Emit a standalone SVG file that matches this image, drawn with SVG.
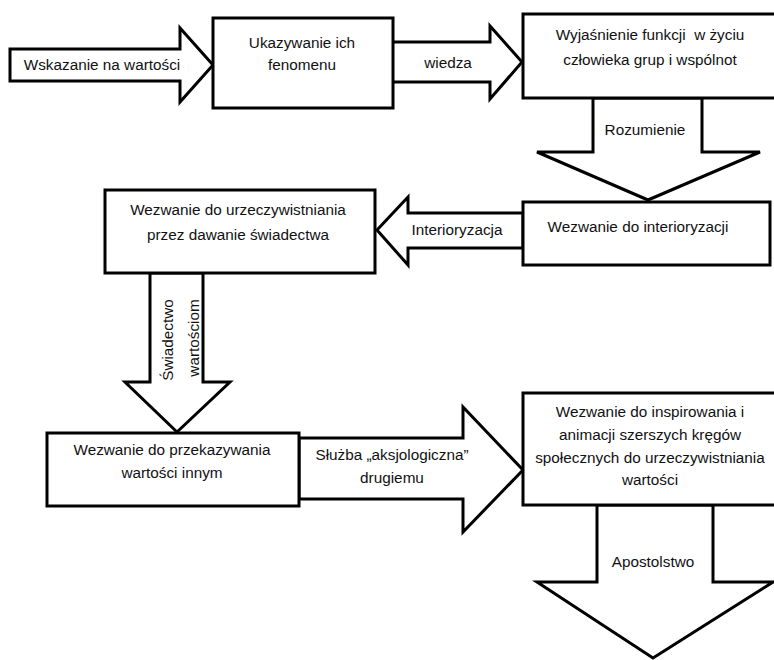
<svg xmlns="http://www.w3.org/2000/svg" width="774" height="660" viewBox="0 0 774 660">
<style>
.box{fill:#fff;stroke:#000;stroke-width:3}
.arr{fill:#fff;stroke:#000;stroke-width:3;stroke-linejoin:miter}
text{font-family:"Liberation Sans",Arial,sans-serif;font-size:15.3px;fill:#111;text-anchor:middle}
</style>
<rect width="774" height="660" fill="#fff"/>
<g id="connectors">
<polygon class="arr" points="10,49 180,49 180,28 213,65 180,102 180,81 10,81"/>
<polygon class="arr" points="392,42 490,42 490,26 522,62 490,99 490,82 392,82"/>
<polygon class="arr" points="593,98 593,152 537,152 648,200 760,152 702,152 702,98"/>
<polygon class="arr" points="523,213 408,213 408,197 377,230 408,265 408,248 523,248"/>
<polygon class="arr" points="150,273 150,382 125,382 177,432 230,382 203,382 203,273"/>
<polygon class="arr" points="299,438 463,438 463,407 523,470 463,532 463,499 299,499"/>
<polygon class="arr" points="597,505 597,582 537,582 653,658 773,582 713,582 713,505"/>
<text x="102" y="70">Wskazanie na wartości</text>
<text x="448" y="68">wiedza</text>
<text x="645" y="135">Rozumienie</text>
<text x="457" y="235">Interioryzacja</text>
<text transform="translate(173,340) rotate(-90)">Świadectwo</text>
<text transform="translate(199,338) rotate(-90)">wartościom</text>
<text x="392" y="460">Służba „aksjologiczna”</text>
<text x="392" y="483">drugiemu</text>
<text x="653" y="567">Apostolstwo</text>
</g>
<g id="n1">
<rect class="box" x="213" y="18" width="180" height="90"/>
<text x="302" y="48">Ukazywanie ich</text>
<text x="302" y="70">fenomenu</text>
</g>
<g id="n2">
<rect class="box" x="523" y="14" width="260" height="84"/>
<text x="650" y="40" xml:space="preserve">Wyjaśnienie funkcji  w życiu</text>
<text x="650" y="65">człowieka grup i wspólnot</text>
</g>
<g id="n3">
<rect class="box" x="523" y="202" width="247" height="63"/>
<text x="638" y="232">Wezwanie do interioryzacji</text>
</g>
<g id="n4">
<rect class="box" x="105" y="190" width="270" height="83"/>
<text x="238" y="215">Wezwanie do urzeczywistniania</text>
<text x="238" y="240">przez dawanie świadectwa</text>
</g>
<g id="n5">
<rect class="box" x="47" y="433" width="252" height="73"/>
<text x="172" y="455">Wezwanie do przekazywania</text>
<text x="172" y="478">wartości innym</text>
</g>
<g id="n6">
<rect class="box" x="523" y="393" width="260" height="112"/>
<text x="650" y="417">Wezwanie do inspirowania i</text>
<text x="650" y="440">animacji szerszych kręgów</text>
<text x="650" y="463">społecznych do urzeczywistniania</text>
<text x="650" y="485">wartości</text>
</g>
</svg>
